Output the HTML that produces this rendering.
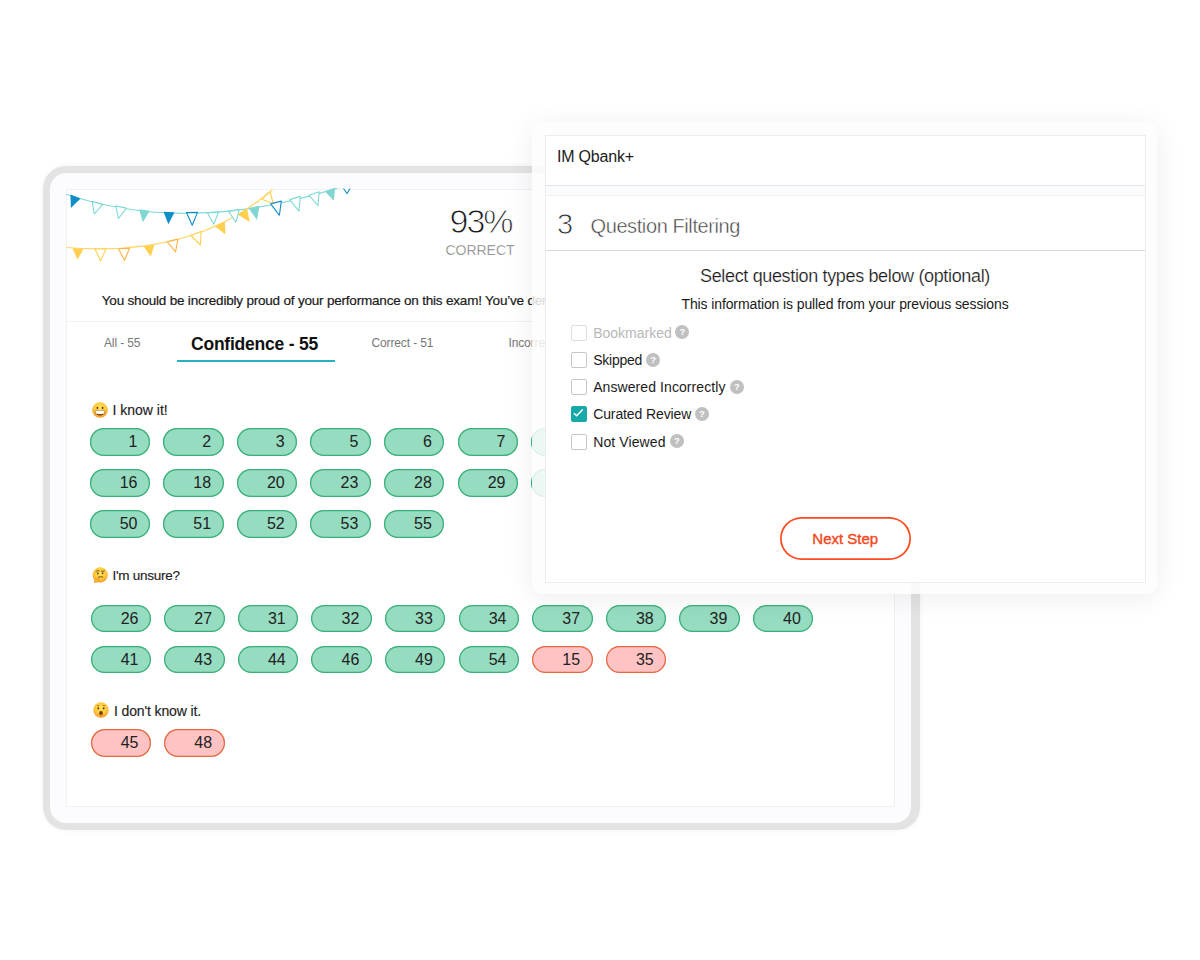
<!DOCTYPE html>
<html><head><meta charset="utf-8">
<style>
*{box-sizing:border-box;margin:0;padding:0}
html,body{width:1200px;height:960px;background:#fff;overflow:hidden}
body{font-family:"Liberation Sans",sans-serif;color:#1a1a1a;position:relative}
.abs{position:absolute}
.frame{position:absolute;left:43px;top:165.5px;width:876.5px;height:664.5px;border-radius:23px;background:#e3e3e3;box-shadow:0 0 5px rgba(0,0,0,.06)}
.frame i{position:absolute;left:7px;top:7.5px;width:861.4px;height:649.5px;border-radius:16px;background:#fcfcfe;display:block}
.panel{position:absolute;left:66px;top:189px;width:829.3px;height:618px;background:#fff;border:1px solid #f0f1f4}
.bunt{position:absolute;left:66px;top:188px}
.pct{position:absolute;left:430.5px;width:100px;top:200.8px;text-align:center;font-size:34px;line-height:40px;color:#1c1c1c;letter-spacing:-2px;-webkit-text-stroke:0.9px #fff}
.cor{position:absolute;left:430px;width:100px;top:241px;text-align:center;font-size:14px;line-height:18px;color:#6e6e6e;-webkit-text-stroke:0.35px #fff}
.msg{position:absolute;left:101.8px;top:291.5px;-webkit-text-stroke:0.2px #1a1a1a;font-size:13.5px;line-height:18px;white-space:nowrap;color:#1a1a1a;letter-spacing:-0.2px}
.hr1{position:absolute;left:67px;top:321px;width:827px;height:1px;background:#eeeff1}
.tab{position:absolute;top:335.4px;font-size:12px;line-height:16px;color:#777;white-space:nowrap;letter-spacing:-0.13px}
.tabA{position:absolute;left:191px;top:332.9px;font-size:17.5px;line-height:22px;font-weight:bold;color:#111;white-space:nowrap;letter-spacing:-0.22px}
.ul{position:absolute;left:176.5px;top:360px;width:158px;height:2px;background:#2ab0c0}
.lab{position:absolute;font-size:14px;line-height:18px;color:#222;white-space:nowrap;-webkit-text-stroke:0.15px #222}
.emo{position:absolute;width:16px;height:16px}
.p{position:absolute;width:60.5px;height:27.5px;border-radius:14px;background:#96dcc1;box-shadow:inset 0 0 0 1.25px #3aaf79;font-size:16px;line-height:28.9px;text-align:right;padding-right:12.5px;color:#222}
.p.r{background:#ffc3c3;box-shadow:inset 0 0 0 1.25px #e3683f}
.card{position:absolute;left:532.4px;top:122px;width:624.6px;height:471.7px;border-radius:11px;background:rgba(253,253,254,.84);box-shadow:0 4px 28px rgba(0,0,0,.075)}
.mp{position:absolute;left:544.5px;top:134.5px;width:601px;height:448px;background:#fff;border:1px solid #ebecee}
.sec1{position:absolute;left:0;top:0;width:599px;height:50px;border-bottom:1px solid #e4e5e7}
.gap{position:absolute;left:0;top:50px;width:599px;height:10px;background:#fafbfc;border-bottom:1px solid #f0f1f3}
.im{position:absolute;left:557px;top:147px;letter-spacing:-0.2px;font-size:16px;line-height:20px;color:#1c1c1c;white-space:nowrap}
.three{position:absolute;left:557px;top:207px;font-size:29px;line-height:34px;color:#2a2a2a;-webkit-text-stroke:0.8px #fff}
.qf{position:absolute;left:590.5px;top:214px;font-size:20px;letter-spacing:-0.4px;line-height:24px;color:#3c3c3c;white-space:nowrap;-webkit-text-stroke:0.45px #fff}
.hr2{position:absolute;left:545.5px;top:249.5px;width:599px;height:1.5px;background:#d8d8d8}
.t1{position:absolute;left:545px;width:600px;top:265px;text-align:center;-webkit-text-stroke:0.2px #fff;letter-spacing:-0.35px;font-size:18px;line-height:22px;color:#1a1a1a;white-space:nowrap}
.t2{position:absolute;left:545px;width:600px;top:295px;text-align:center;letter-spacing:-0.11px;font-size:14px;line-height:18px;color:#1a1a1a;white-space:nowrap}
.cb{position:absolute;left:570.7px;width:16.3px;height:16px;border:1px solid #c6c6c6;border-radius:2px;background:#fff}
.cb.on{background:#18a8a8;border-color:#18a8a8}
.cl{position:absolute;left:593.2px;font-size:14px;line-height:18px;color:#1c1c1c;white-space:nowrap}
.q{position:absolute;width:14px;height:14px;border-radius:50%;background:#c0c0c0;color:#fff;font-size:9.5px;line-height:14.5px;text-align:center;font-weight:bold}
.btn{position:absolute;left:779.5px;top:517px;width:131.5px;height:42.5px;box-shadow:inset 0 0 0 1.7px #ff4a1f;border-radius:22px;text-align:center;font-size:15px;line-height:44.6px;color:#f4481e;-webkit-text-stroke:0.4px #f4481e;background:#fff}
</style></head><body>
<div class="frame"><i></i></div>
<div class="panel"></div>
<svg class="bunt" width="300" height="90" viewBox="66 188 300 90">
<path d="M66,194.2 Q190,235.7 340,187.2" fill="none" stroke="#7fd9d6" stroke-width="1.2"/>
<path d="M66,247.5 Q195,258 272.5,189.5" fill="none" stroke="#ffd66a" stroke-width="1.2"/>
<polygon points="72.5,248.3 83.5,248.7 77.6,259.8" fill="#ffd04f"/>
<polygon points="95.0,249.0 106.0,249.0 100.5,260.8" fill="#fff" stroke="#ffd04f" stroke-width="1.1" stroke-linejoin="round"/>
<polygon points="118.5,248.8 129.5,248.2 124.6,260.3" fill="#fff" stroke="#ffb347" stroke-width="1.1" stroke-linejoin="round"/>
<polygon points="143.6,246.4 154.4,244.6 150.8,256.7" fill="#ffd04f"/>
<polygon points="167.2,241.9 177.8,239.1 175.6,251.9" fill="#fff" stroke="#ffb347" stroke-width="1.1" stroke-linejoin="round"/>
<polygon points="190.9,235.5 201.1,231.5 200.4,245.0" fill="#fff" stroke="#ffd04f" stroke-width="1.1" stroke-linejoin="round"/>
<polygon points="215.1,226.5 224.9,221.5 225.4,234.5" fill="#ffd04f"/>
<polygon points="238.0,214.7 247.0,208.3 249.8,222.0" fill="#ffd04f"/>
<polygon points="261.9,199.2 270.1,191.8 273.2,203.5" fill="#fff" stroke="#ffd04f" stroke-width="1.1" stroke-linejoin="round"/>
<polygon points="70.4,194.4 80.6,198.6 70.9,207.9" fill="#0f8ec7"/>
<polygon points="92.2,201.4 102.8,204.6 94.2,213.8" fill="#fff" stroke="#7fd9d6" stroke-width="1.1" stroke-linejoin="round"/>
<polygon points="115.6,205.9 126.4,208.1 118.5,218.5" fill="#fff" stroke="#7fd9d6" stroke-width="1.1" stroke-linejoin="round"/>
<polygon points="139.1,209.2 149.9,210.8 142.8,222.2" fill="#7fd6d3"/>
<polygon points="163.5,211.7 174.5,212.3 168.4,224.3" fill="#0f8ec7"/>
<polygon points="186.5,212.6 197.5,212.4 192.2,225.3" fill="#fff" stroke="#0f8ec7" stroke-width="1.1" stroke-linejoin="round"/>
<polygon points="207.5,212.9 218.5,212.1 213.8,224.3" fill="#fff" stroke="#7fd9d6" stroke-width="1.1" stroke-linejoin="round"/>
<polygon points="228.6,211.4 239.4,209.6 235.8,222.2" fill="#fff" stroke="#7fd9d6" stroke-width="1.1" stroke-linejoin="round"/>
<polygon points="248.6,208.2 259.4,205.8 257.0,220.0" fill="#7fd6d3"/>
<polygon points="270.7,203.9 281.3,201.1 279.4,215.3" fill="#fff" stroke="#0f8ec7" stroke-width="1.1" stroke-linejoin="round"/>
<polygon points="289.7,199.6 300.3,196.4 299.0,211.2" fill="#fff" stroke="#7fd9d6" stroke-width="1.1" stroke-linejoin="round"/>
<polygon points="308.8,195.2 319.2,191.8 318.0,205.7" fill="#fff" stroke="#7fd9d6" stroke-width="1.1" stroke-linejoin="round"/>
<polygon points="324.8,191.3 335.2,187.7 333.8,200.7" fill="#7fd6d3"/>
<path d="M343.5,188.5 L347,193.5 L350,188.5" fill="none" stroke="#0f8ec7" stroke-width="1.1"/>
</svg>
<div class="pct">93%</div>
<div class="cor">CORRECT</div>
<div class="msg">You should be incredibly proud of your performance on this exam! You’ve demonstrated</div>
<div class="hr1"></div>
<div class="tab" style="left:104px">All - 55</div>
<div class="tabA">Confidence - 55</div>
<div class="ul"></div>
<div class="tab" style="left:371.5px">Correct - 51</div>
<div class="tab" style="left:508.5px">Incorrect - 4</div>

<svg class="emo" style="left:91.8px;top:401.5px" viewBox="0 0 16 16"><defs><radialGradient id="eg" cx="50%" cy="38%" r="62%"><stop offset="0" stop-color="#ffe15e"/><stop offset=".6" stop-color="#ffcb3b"/><stop offset="1" stop-color="#f4982a"/></radialGradient></defs><circle cx="8" cy="8" r="7.8" fill="url(#eg)"/><ellipse cx="5.4" cy="6" rx=".85" ry="1.15" fill="#5d3410"/><ellipse cx="10.6" cy="6" rx=".85" ry="1.15" fill="#5d3410"/><path d="M2.7,8.7 Q8,7.7 13.3,8.7 C13.2,11.8 10.9,13.5 8,13.5 C5.1,13.5 2.8,11.8 2.7,8.7Z" fill="#7a4513"/><path d="M3.2,9 Q8,8.1 12.8,9 Q12.6,10.8 11.6,11.7 Q8,12.4 4.4,11.7 Q3.4,10.8 3.2,9Z" fill="#fff"/></svg>
<div class="lab" style="left:112.5px;top:401px">I know it!</div>

<svg class="emo" style="left:91.8px;top:567px" viewBox="0 0 16 16"><circle cx="8.2" cy="7.8" r="7.6" fill="url(#eg)"/><ellipse cx="5.8" cy="6.4" rx=".8" ry="1.05" fill="#5d3410"/><ellipse cx="10.6" cy="6.2" rx=".8" ry="1.05" fill="#5d3410"/><path d="M4,4.3 Q5.5,3 7.2,3.8" stroke="#5d3410" stroke-width=".8" fill="none" stroke-linecap="round"/><path d="M9.4,4.3 L12.4,3.9" stroke="#5d3410" stroke-width=".8" fill="none" stroke-linecap="round"/><path d="M6.4,10.1 Q8.6,9.3 10.8,10" stroke="#5d3410" stroke-width=".8" fill="none" stroke-linecap="round"/><path d="M2,15.2 Q2.2,12 5.2,10.9 Q7.6,10.6 7,12.3 L5.4,13 Q7.4,13.4 6.2,14.8 Q4.6,16.2 2,15.2Z" fill="#ffb936" stroke="#e08a1a" stroke-width=".5"/></svg>
<div class="lab" style="left:112.5px;top:566.5px;letter-spacing:-0.27px;font-size:13.5px">I'm unsure?</div>

<svg class="emo" style="left:93.1px;top:702.2px" viewBox="0 0 16 16"><circle cx="8" cy="8" r="7.7" fill="url(#eg)"/><ellipse cx="5.3" cy="6.3" rx=".9" ry="1.15" fill="#5d3410"/><ellipse cx="10.7" cy="6.3" rx=".9" ry="1.15" fill="#5d3410"/><path d="M3.9,3.9 Q5,3.1 6.3,3.6" stroke="#6b3d10" stroke-width=".6" fill="none"/><path d="M9.7,3.6 Q11,3.1 12.1,3.9" stroke="#6b3d10" stroke-width=".6" fill="none"/><ellipse cx="8" cy="11.3" rx="1.75" ry="2.2" fill="#6e3610"/><ellipse cx="8" cy="12.4" rx="1.1" ry=".9" fill="#c0562a"/></svg>
<div class="lab" style="left:114px;top:701.5px;letter-spacing:-0.13px">I don't know it.</div>

<div class="p" style="left:89.5px;top:428px">1</div>
<div class="p" style="left:163.1px;top:428px">2</div>
<div class="p" style="left:236.7px;top:428px">3</div>
<div class="p" style="left:310.29999999999995px;top:428px">5</div>
<div class="p" style="left:383.9px;top:428px">6</div>
<div class="p" style="left:457.5px;top:428px">7</div>
<div class="p" style="left:531.0999999999999px;top:428px">8</div>
<div class="p" style="left:89.5px;top:469px">16</div>
<div class="p" style="left:163.1px;top:469px">18</div>
<div class="p" style="left:236.7px;top:469px">20</div>
<div class="p" style="left:310.29999999999995px;top:469px">23</div>
<div class="p" style="left:383.9px;top:469px">28</div>
<div class="p" style="left:457.5px;top:469px">29</div>
<div class="p" style="left:531.0999999999999px;top:469px">30</div>
<div class="p" style="left:89.5px;top:510px">50</div>
<div class="p" style="left:163.1px;top:510px">51</div>
<div class="p" style="left:236.7px;top:510px">52</div>
<div class="p" style="left:310.29999999999995px;top:510px">53</div>
<div class="p" style="left:383.9px;top:510px">55</div>
<div class="p" style="left:90.5px;top:604.7px">26</div>
<div class="p" style="left:164.1px;top:604.7px">27</div>
<div class="p" style="left:237.7px;top:604.7px">31</div>
<div class="p" style="left:311.29999999999995px;top:604.7px">32</div>
<div class="p" style="left:384.9px;top:604.7px">33</div>
<div class="p" style="left:458.5px;top:604.7px">34</div>
<div class="p" style="left:532.0999999999999px;top:604.7px">37</div>
<div class="p" style="left:605.6999999999999px;top:604.7px">38</div>
<div class="p" style="left:679.3px;top:604.7px">39</div>
<div class="p" style="left:752.9px;top:604.7px">40</div>
<div class="p" style="left:90.5px;top:645.7px">41</div>
<div class="p" style="left:164.1px;top:645.7px">43</div>
<div class="p" style="left:237.7px;top:645.7px">44</div>
<div class="p" style="left:311.29999999999995px;top:645.7px">46</div>
<div class="p" style="left:384.9px;top:645.7px">49</div>
<div class="p" style="left:458.5px;top:645.7px">54</div>
<div class="p r" style="left:532.0999999999999px;top:645.7px">15</div>
<div class="p r" style="left:605.6999999999999px;top:645.7px">35</div>
<div class="p r" style="left:90.5px;top:729px">45</div>
<div class="p r" style="left:164.1px;top:729px">48</div>

<div class="card"></div>
<div class="mp"><div class="sec1"></div><div class="gap"></div></div>
<div class="im">IM Qbank+</div>
<div class="three">3</div>
<div class="qf">Question Filtering</div>
<div class="hr2"></div>
<div class="t1">Select question types below (optional)</div>
<div class="t2">This information is pulled from your previous sessions</div>

<div class="cb" style="top:324.7px;border-color:#dedede"></div><div class="cl" style="top:323.5px;color:#b8b8b8">Bookmarked</div><div class="q" style="left:675.3px;top:325.3px">?</div>
<div class="cb" style="top:352px"></div><div class="cl" style="top:350.8px;letter-spacing:-0.25px">Skipped</div><div class="q" style="left:646.2px;top:352.6px">?</div>
<div class="cb" style="top:379.2px"></div><div class="cl" style="top:378px;letter-spacing:0.08px">Answered Incorrectly</div><div class="q" style="left:729.9px;top:379.8px">?</div>
<div class="cb on" style="top:406.2px"><svg width="16" height="16" viewBox="0 0 16 16" style="position:absolute;left:-1px;top:-1px"><path d="M2.9,7.3 L5.7,9.7 L11.7,3.5" fill="none" stroke="#fff" stroke-width="1.5"/></svg></div><div class="cl" style="top:405.3px;letter-spacing:-0.11px">Curated Review</div><div class="q" style="left:695px;top:407.1px">?</div>
<div class="cb" style="top:433.5px"></div><div class="cl" style="top:432.5px;letter-spacing:0.1px">Not Viewed</div><div class="q" style="left:670px;top:434.3px">?</div>

<div class="btn">Next Step</div>
</body></html>
